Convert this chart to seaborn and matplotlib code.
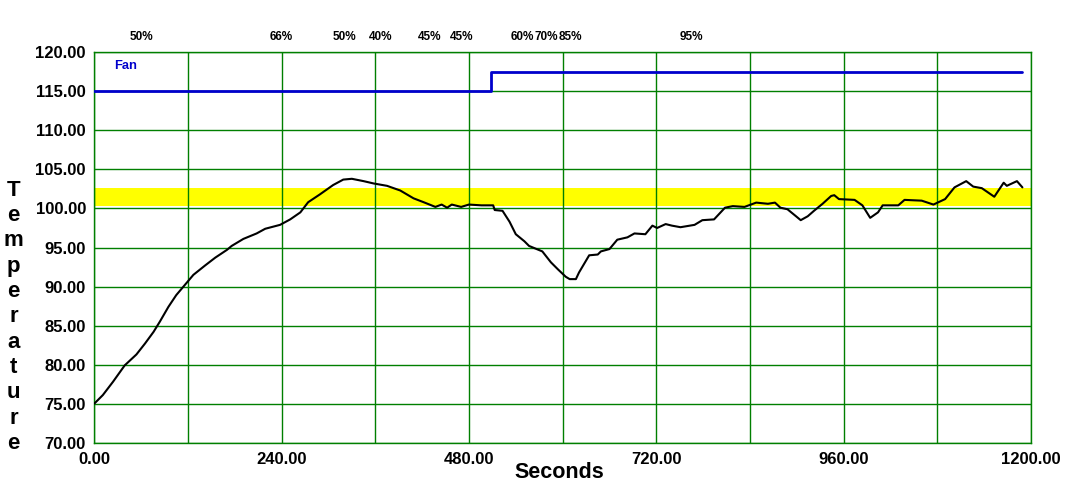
import matplotlib
matplotlib.use("Agg")
import matplotlib.pyplot as plt
import matplotlib.transforms as mtransforms
import seaborn as sns
import pandas as pd

# ---------------- data ----------------
seconds = [0, 11, 24, 39, 54, 65, 76, 84, 95, 105,
           116, 127, 142, 155, 170, 176, 191, 208, 219, 238,
           251, 264, 274, 289, 306, 319, 330, 345, 358, 375,
           392, 409, 422, 437, 445, 452, 458, 470, 480, 496,
           511, 513, 523, 532, 540, 551, 557, 574, 585, 594,
           604, 609, 617, 621, 634, 645, 649, 660, 670, 683,
           692, 706, 715, 721, 732, 740, 751, 769, 779, 794,
           808, 818, 833, 848, 863, 872, 879, 888, 899, 905,
           914, 922, 933, 944, 948, 954, 974, 984, 994, 1004,
           1010, 1030, 1038, 1060, 1075, 1090, 1102, 1117, 1126, 1137,
           1153, 1165, 1169, 1182, 1189]
temperature = [75.0, 76.1, 77.8, 79.9, 81.3, 82.7, 84.2, 85.5, 87.4, 88.9,
               90.2, 91.5, 92.7, 93.7, 94.7, 95.2, 96.1, 96.8, 97.4, 97.9,
               98.6, 99.5, 100.8, 101.8, 103.0, 103.7, 103.8, 103.5, 103.2, 102.9,
               102.3, 101.3, 100.8, 100.2, 100.5, 100.1, 100.5, 100.2, 100.5, 100.4,
               100.4, 99.8, 99.7, 98.3, 96.7, 95.8, 95.2, 94.5, 93.1, 92.2,
               91.25, 90.95, 90.95, 91.8, 94.0, 94.1, 94.5, 94.8, 96.0, 96.3,
               96.8, 96.7, 97.8, 97.5, 98.0, 97.8, 97.6, 97.9, 98.5, 98.6,
               100.1, 100.3, 100.2, 100.75, 100.6, 100.75, 100.1, 99.9, 99.0, 98.5,
               99.0, 99.7, 100.6, 101.6, 101.7, 101.2, 101.1, 100.4, 98.8, 99.5,
               100.4, 100.4, 101.1, 101.0, 100.5, 101.2, 102.7, 103.5, 102.8, 102.6,
               101.5, 103.3, 102.9, 103.5, 102.7]

fan_seconds = [0, 508, 1189]
fan_level = [115.0, 117.5, 117.5]
fan_label = "Fan"

target_low = 100.3
target_high = 102.6

pct_seconds = [61, 240, 321, 367, 429, 470, 548, 579, 610, 765]
pct_labels = ["50%", "66%", "50%", "40%", "45%", "45%", "60%", "70%", "85%", "95%"]

x_ticks = list(range(0, 1201, 120))
x_tick_labels = [f"{v:.2f}" if v % 240 == 0 else "" for v in x_ticks]
y_ticks = list(range(70, 121, 5))
y_tick_labels = [f"{v:.2f}" for v in y_ticks]

x_title = "Seconds"
y_title = "Temperature"

# ---------------- style ----------------
sns.set_style("white")
plt.rcParams["font.family"] = ["Liberation Sans", "DejaVu Sans"]
plt.rcParams["font.weight"] = "bold"
plt.rcParams["text.color"] = "black"
plt.rcParams["xtick.labelcolor"] = "black"
plt.rcParams["ytick.labelcolor"] = "black"

GREEN = "#007f00"
BLUE = "#0000cc"

fig = plt.figure(figsize=(10.91, 4.95), dpi=100)
ax = fig.add_axes([0.0864, 0.1057, 0.9450 - 0.0864, 0.8943 - 0.1057])

temp_df = pd.DataFrame({"Seconds": seconds, "Temperature": temperature})
fan_df = pd.DataFrame({"Seconds": fan_seconds, "Fan": fan_level})

ax.axhspan(target_low, target_high, color="#ffff00", lw=0, zorder=0.2)

sns.lineplot(data=fan_df, x="Seconds", y="Fan", ax=ax, color=BLUE, lw=2.0,
             drawstyle="steps-post", estimator=None, sort=False, zorder=3)
sns.lineplot(data=temp_df, x="Seconds", y="Temperature", ax=ax, color="black",
             lw=1.5, estimator=None, sort=False, zorder=4)

ax.set_xlim(0, 1200)
ax.set_ylim(70, 120)
ax.set_xticks(x_ticks)
ax.set_xticklabels(x_tick_labels)
ax.set_yticks(y_ticks)
ax.set_yticklabels(y_tick_labels)
ax.grid(True, color=GREEN, lw=1.0)
ax.set_axisbelow(False)
for gl in ax.get_xgridlines() + ax.get_ygridlines():
    gl.set_zorder(1)
for sp in ax.spines.values():
    sp.set_color(GREEN)
    sp.set_linewidth(1.0)
    sp.set_visible(True)
ax.tick_params(axis="both", which="major", direction="out", color=GREEN,
               width=1.0, labelsize=12, pad=1, labelcolor="black")
ax.tick_params(axis="x", length=6)
ax.tick_params(axis="y", length=5)
for lab in ax.get_xticklabels() + ax.get_yticklabels():
    lab.set_fontweight("bold")
    lab.set_color("black")
ax.set_xlabel("")
ax.set_ylabel("")

ax.text(25, 118.3, fan_label, color=BLUE, fontsize=9.3, fontweight="bold",
        ha="left", va="center", zorder=5)

trans = mtransforms.blended_transform_factory(ax.transData, ax.transAxes)
for xs, lab in zip(pct_seconds, pct_labels):
    ax.text(xs, 1.039, lab, transform=trans, ha="center", va="center",
            fontsize=8.5, fontweight="bold", clip_on=False, color="black")

fig.text(0.513, 0.046, x_title, ha="center", va="center", fontsize=15.5,
         fontweight="bold", color="black")
fig.text(0.0125, 0.36, "\n".join(y_title), ha="center", va="center",
         fontsize=16, fontweight="bold", linespacing=1.27, color="black")

fig.savefig("out.png", dpi=100)
